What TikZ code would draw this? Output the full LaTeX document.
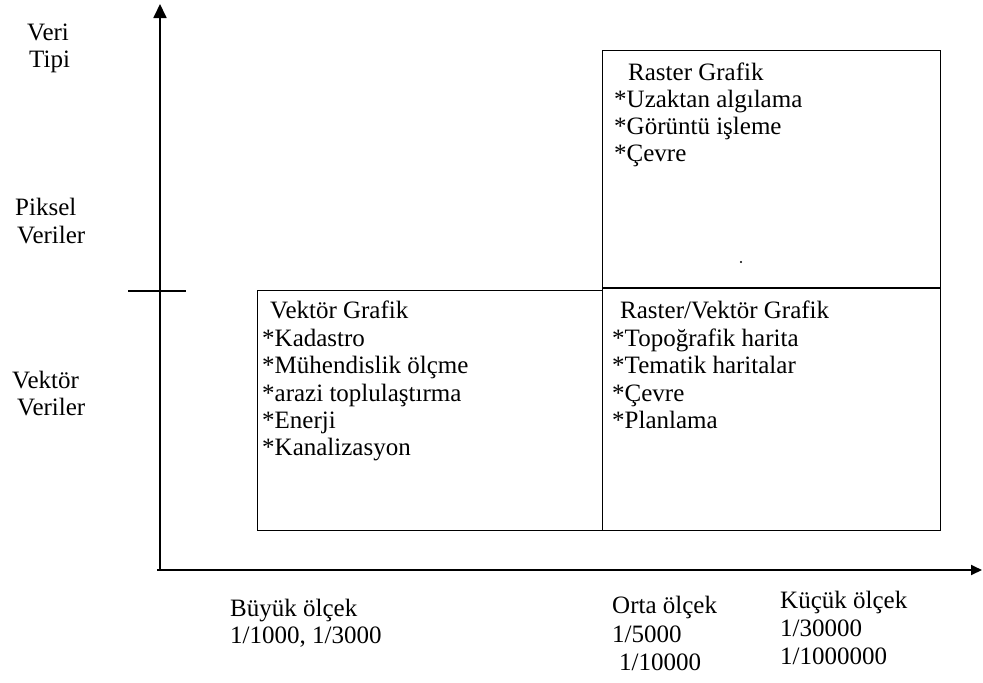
\documentclass[tikz,border=0pt]{standalone}
\usepackage{fontspec}
\setmainfont{Liberation Serif}
\usetikzlibrary{arrows.meta}
\begin{document}
\begin{tikzpicture}[x=1pt,y=-1pt,
  lbl/.style={anchor=base west,inner sep=0pt,font=\fontsize{25}{30}\selectfont},
  axisline/.style={line width=1.8pt},
  boxnode/.style={draw,line width=1.3pt,inner sep=0pt,anchor=north west}]
\useasboundingbox (0,0) rectangle (983,683);
% axes
\coordinate (O) at (160,570);
\coordinate (ytip) at (160,4);
\coordinate (xs) at (157,570);
\coordinate (xtip) at (982,570);
\coordinate (t1) at (128,291);
\coordinate (t2) at (186,291);
\draw[axisline,-{Triangle[length=14pt,width=13pt]}] (O) -- (ytip);
\draw[axisline,-{Triangle[length=11pt,width=10pt]}] (xs) -- (xtip);
\draw[axisline] (t1) -- (t2);
% boxes
\node[boxnode,minimum width=338pt,minimum height=238pt] (raster) at (602,50) {};
\node[boxnode,minimum width=345pt,minimum height=240pt] (vektor) at (257,290) {};
\node[boxnode,minimum width=338pt,minimum height=242pt] (rv) at (602,288) {};
\draw[line width=2.6pt] (rv.north west) -- (rv.north east);
\fill (741,262) circle (1.1pt);
% left labels
\node[lbl] (l1) at (27,40) {Veri};
\node[lbl] (l2) at (29,67) {Tipi};
\node[lbl] (l3) at (15,215) {Piksel};
\node[lbl] (l4) at (17,243) {Veriler};
\node[lbl] (l5) at (12,388) {Vektör};
\node[lbl] (l6) at (17,415) {Veriler};
% raster box text
\node[lbl] (r0) at (628,80) {Raster Grafik};
\node[lbl] (r1) at (614,107) {*Uzaktan algılama};
\node[lbl] (r2) at (614,134) {*Görüntü işleme};
\node[lbl] (r3) at (614,161) {*Çevre};
% vektor box text
\node[lbl] (v0) at (270,318) {Vektör Grafik};
\node[lbl] (v1) at (262,346) {*Kadastro};
\node[lbl] (v2) at (262,373) {*Mühendislik ölçme};
\node[lbl] (v3) at (262,401) {*arazi toplulaştırma};
\node[lbl] (v4) at (262,428) {*Enerji};
\node[lbl] (v5) at (262,455) {*Kanalizasyon};
% raster/vektor box text
\node[lbl] (w0) at (620,318) {Raster/Vektör Grafik};
\node[lbl] (w1) at (612,346) {*Topoğrafik harita};
\node[lbl] (w2) at (612,373) {*Tematik haritalar};
\node[lbl] (w3) at (612,401) {*Çevre};
\node[lbl] (w4) at (612,428) {*Planlama};
% bottom labels
\node[lbl] (b1) at (230,616) {Büyük ölçek};
\node[lbl] (b2) at (230,643) {1/1000, 1/3000};
\node[lbl] (o1) at (612,613) {Orta ölçek};
\node[lbl] (o2) at (612,642) {1/5000};
\node[lbl] (o3) at (619,670) {1/10000};
\node[lbl] (k1) at (780,608) {Küçük ölçek};
\node[lbl] (k2) at (780,636) {1/30000};
\node[lbl] (k3) at (780,664) {1/1000000};
\end{tikzpicture}
\end{document}
